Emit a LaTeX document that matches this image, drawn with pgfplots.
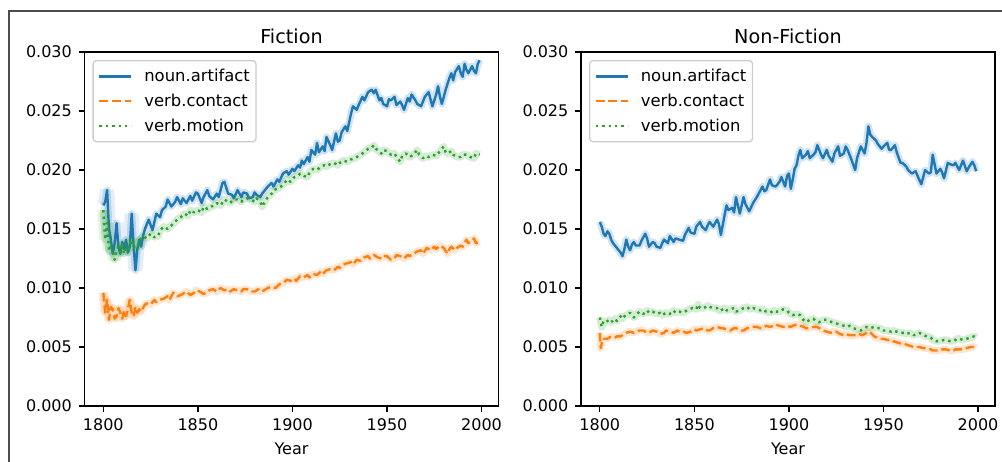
\documentclass[border=0pt]{standalone}
\usepackage{pgfplots}
\usepackage{pgfplotstable}
\pgfplotsset{compat=1.18}
\usepackage{fontspec}
\setmainfont{DejaVu Sans}
\definecolor{mblue}{HTML}{1F77B4}
\definecolor{morange}{HTML}{FF7F0E}
\definecolor{mgreen}{HTML}{2CA02C}

% values in units of 0.001
\pgfplotstableread[row sep=\\]{year v\\1800 17.0\\1801 17.3\\1802 18.3\\1803 15.0\\1804 14.1\\1805 12.9\\1806 13.8\\1807 15.5\\1808 13.5\\1809 12.9\\1810 13.9\\1811 13.3\\1812 14.1\\1813 13.0\\1814 13.5\\1815 16.3\\1816 13.6\\1817 11.5\\1818 13.3\\1819 14.1\\1820 13.5\\1821 14.4\\1822 15.0\\1824 15.8\\1826 14.9\\1828 16.3\\1830 16.0\\1831 16.6\\1833 16.9\\1834 17.5\\1836 16.9\\1838 17.3\\1839 17.7\\1841 17.1\\1842 17.6\\1844 17.2\\1846 17.8\\1847 17.4\\1849 18.1\\1850 18.0\\1852 17.2\\1853 17.7\\1855 18.3\\1856 17.8\\1858 17.5\\1860 18.0\\1861 17.7\\1863 18.9\\1864 19.0\\1866 18.0\\1868 17.9\\1869 17.6\\1871 18.3\\1873 17.7\\1874 18.1\\1876 18.0\\1877 17.6\\1879 17.7\\1880 18.1\\1881 17.9\\1883 17.7\\1884 18.0\\1886 18.4\\1887 18.6\\1889 18.9\\1890 18.6\\1892 19.2\\1893 19.0\\1895 19.7\\1897 19.9\\1898 19.6\\1900 20.1\\1901 19.9\\1903 20.4\\1904 20.2\\1905 20.8\\1906 20.5\\1908 21.1\\1909 20.7\\1910 21.7\\1912 21.3\\1913 22.3\\1914 21.5\\1916 22.0\\1917 21.6\\1918 22.8\\1920 22.1\\1921 21.7\\1923 23.1\\1924 22.4\\1925 22.5\\1926 23.2\\1928 23.7\\1929 23.3\\1931 24.8\\1932 25.4\\1934 25.1\\1935 25.5\\1937 26.2\\1938 25.9\\1940 26.6\\1942 26.8\\1943 26.5\\1944 26.8\\1946 25.9\\1947 26.1\\1948 25.6\\1950 25.4\\1951 26.0\\1952 25.9\\1954 26.2\\1955 25.5\\1957 25.8\\1958 25.5\\1959 25.1\\1961 26.1\\1962 25.8\\1963 26.4\\1965 25.9\\1966 25.6\\1968 25.4\\1970 26.2\\1972 26.6\\1973 26.0\\1974 25.4\\1976 26.4\\1977 27.1\\1978 26.2\\1979 25.6\\1981 26.8\\1983 27.8\\1984 28.2\\1985 27.6\\1986 28.3\\1988 28.8\\1989 28.2\\1990 27.9\\1991 29.0\\1992 28.5\\1993 28.2\\1995 28.8\\1996 28.4\\1997 28.2\\1998 29.0\\1999 29.3\\}\fictionArtifact

\pgfplotstableread[row sep=\\]{year v\\1800 9.6\\1801 7.9\\1802 9.0\\1803 7.3\\1804 8.4\\1805 8.2\\1806 7.4\\1807 7.6\\1808 8.3\\1809 7.9\\1810 7.4\\1811 8.1\\1812 7.6\\1813 8.2\\1814 9.0\\1815 7.9\\1816 7.6\\1817 8.4\\1818 7.9\\1819 8.2\\1820 8.0\\1821 8.3\\1822 8.6\\1823 8.7\\1825 8.6\\1827 9.0\\1828 8.8\\1830 9.0\\1832 9.1\\1834 9.3\\1835 9.0\\1837 9.6\\1839 9.3\\1841 9.4\\1843 9.6\\1844 9.7\\1846 9.4\\1848 9.6\\1849 9.8\\1851 9.7\\1853 9.5\\1855 9.6\\1856 9.8\\1858 9.9\\1860 9.7\\1862 10.0\\1864 9.8\\1866 9.9\\1867 9.7\\1869 9.9\\1871 9.8\\1873 9.7\\1874 9.9\\1876 9.9\\1878 9.7\\1880 9.7\\1882 9.9\\1883 9.7\\1885 9.8\\1887 10.0\\1889 10.1\\1891 10.0\\1893 10.3\\1895 10.4\\1897 10.7\\1899 10.6\\1901 10.8\\1902 10.6\\1904 11.0\\1906 10.9\\1908 11.1\\1909 10.9\\1911 11.2\\1913 11.1\\1915 11.4\\1916 11.2\\1918 11.5\\1920 11.6\\1922 11.5\\1924 11.8\\1925 11.7\\1927 12.0\\1929 12.1\\1931 12.2\\1932 12.0\\1934 12.4\\1936 12.3\\1938 12.6\\1940 12.7\\1941 12.5\\1943 12.8\\1945 12.6\\1947 12.5\\1948 12.7\\1950 12.7\\1952 12.4\\1954 12.5\\1955 12.8\\1957 12.7\\1959 12.5\\1961 12.8\\1962 12.7\\1964 12.9\\1966 13.1\\1968 13.2\\1969 12.9\\1971 13.4\\1973 13.2\\1975 13.5\\1976 13.3\\1978 13.6\\1980 13.4\\1982 12.9\\1983 13.3\\1984 13.5\\1986 13.2\\1987 13.4\\1989 13.6\\1990 13.5\\1992 14.1\\1993 13.8\\1994 13.9\\1996 14.2\\1997 13.8\\1999 13.9\\}\fictionContact

\pgfplotstableread[row sep=\\]{year v\\1800 16.6\\1801 14.1\\1802 15.5\\1803 13.2\\1804 13.5\\1805 13.0\\1806 12.4\\1807 13.2\\1808 13.5\\1809 13.0\\1810 13.8\\1811 12.9\\1812 13.4\\1813 13.2\\1814 13.7\\1815 14.1\\1816 13.4\\1817 13.6\\1818 13.5\\1819 14.0\\1821 14.4\\1823 14.2\\1825 14.6\\1827 14.3\\1829 14.4\\1830 14.9\\1832 15.2\\1834 15.0\\1836 15.3\\1838 15.6\\1839 15.8\\1841 16.0\\1843 16.3\\1845 16.1\\1846 16.6\\1848 16.4\\1850 16.6\\1852 16.4\\1853 16.9\\1855 16.7\\1857 16.9\\1859 17.0\\1860 17.2\\1862 17.0\\1864 17.5\\1866 17.3\\1867 17.2\\1869 17.5\\1871 17.5\\1873 17.3\\1874 17.5\\1876 17.6\\1878 17.5\\1880 17.3\\1881 17.6\\1883 17.3\\1884 16.9\\1886 17.5\\1887 17.7\\1889 18.0\\1890 18.3\\1892 18.4\\1894 18.6\\1896 18.9\\1897 19.2\\1899 19.0\\1901 19.4\\1903 19.5\\1904 19.7\\1906 19.5\\1908 19.4\\1909 19.8\\1911 20.1\\1913 20.0\\1915 20.3\\1917 20.4\\1918 20.3\\1920 20.5\\1922 20.6\\1924 20.4\\1925 20.6\\1927 20.8\\1929 20.7\\1931 20.9\\1933 21.0\\1934 21.1\\1936 21.3\\1938 21.5\\1940 21.8\\1942 21.9\\1943 22.1\\1944 21.8\\1945 21.7\\1947 21.4\\1948 21.7\\1950 21.6\\1952 21.3\\1954 21.4\\1955 21.1\\1957 20.7\\1958 21.2\\1960 21.4\\1962 21.1\\1964 21.3\\1966 21.7\\1967 21.3\\1969 21.0\\1971 21.2\\1972 21.1\\1974 21.3\\1976 21.2\\1978 21.6\\1980 22.0\\1981 21.5\\1982 21.4\\1984 21.6\\1985 21.3\\1987 21.1\\1989 21.1\\1990 21.3\\1992 21.3\\1994 21.1\\1996 21.0\\1997 21.4\\1999 21.3\\}\fictionMotion

\pgfplotstableread[row sep=\\]{year v\\1800 15.6\\1801 15.2\\1802 14.6\\1803 14.4\\1804 14.8\\1805 14.6\\1806 14.1\\1807 13.8\\1808 13.6\\1810 13.2\\1811 13.0\\1812 12.7\\1813 13.3\\1814 14.1\\1815 13.5\\1816 13.2\\1817 13.7\\1818 13.9\\1819 13.6\\1821 13.6\\1822 14.0\\1824 14.6\\1825 14.2\\1826 13.5\\1828 13.9\\1829 13.8\\1830 13.5\\1832 13.4\\1833 13.8\\1834 14.1\\1836 13.8\\1837 14.4\\1839 13.9\\1840 14.2\\1842 14.1\\1844 14.0\\1845 14.5\\1847 15.1\\1848 14.7\\1850 14.6\\1851 15.2\\1853 15.6\\1854 15.2\\1856 14.9\\1857 15.3\\1858 15.6\\1860 15.2\\1862 15.8\\1863 15.4\\1864 14.5\\1866 16.2\\1867 17.0\\1868 16.6\\1870 16.8\\1871 16.4\\1872 17.7\\1874 16.3\\1876 17.7\\1877 17.1\\1879 16.5\\1881 17.2\\1883 17.7\\1884 18.0\\1886 18.6\\1887 18.2\\1888 18.3\\1890 19.2\\1891 18.7\\1893 18.6\\1895 19.0\\1896 19.4\\1898 18.6\\1899 19.5\\1900 19.7\\1901 18.4\\1902 19.2\\1903 20.1\\1904 20.4\\1905 21.2\\1906 21.7\\1907 21.0\\1909 21.3\\1910 21.6\\1911 21.0\\1913 21.3\\1914 21.5\\1915 22.1\\1917 21.3\\1918 21.0\\1920 21.7\\1921 21.2\\1923 20.7\\1924 21.4\\1926 22.0\\1927 21.2\\1929 21.4\\1930 22.0\\1931 21.7\\1933 20.9\\1935 20.0\\1936 21.0\\1938 22.0\\1940 21.4\\1941 22.3\\1942 23.7\\1943 23.0\\1944 22.8\\1946 22.5\\1947 22.2\\1949 21.8\\1950 22.0\\1952 22.3\\1953 21.7\\1954 21.7\\1956 22.1\\1957 21.5\\1959 20.6\\1960 20.6\\1962 20.3\\1963 20.0\\1965 19.7\\1967 19.9\\1968 19.5\\1970 18.8\\1972 20.0\\1974 19.7\\1975 19.8\\1976 21.3\\1977 20.5\\1978 19.7\\1980 20.1\\1981 19.8\\1982 19.3\\1984 20.6\\1985 20.5\\1987 20.4\\1988 20.6\\1990 20.0\\1991 20.4\\1992 20.8\\1994 19.9\\1995 20.2\\1997 20.7\\1998 20.4\\1999 19.9\\}\nonfictionArtifact

\pgfplotstableread[row sep=\\]{year v\\1800 6.2\\1800.5 4.9\\1801.5 5.7\\1803 5.7\\1804 5.7\\1806 5.9\\1808 5.8\\1809 5.9\\1811 5.9\\1812 6.0\\1814 6.2\\1816 6.3\\1818 6.2\\1819 6.3\\1821 6.4\\1823 6.4\\1825 6.2\\1826 6.2\\1828 6.4\\1830 6.3\\1832 6.1\\1834 6.2\\1835 6.4\\1837 6.3\\1839 6.2\\1841 6.4\\1842 6.3\\1844 6.3\\1846 6.2\\1848 6.3\\1850 6.5\\1851 6.4\\1853 6.5\\1855 6.6\\1857 6.4\\1858 6.4\\1860 6.6\\1862 6.7\\1864 6.6\\1865 6.6\\1867 6.5\\1869 6.4\\1871 6.6\\1872 6.6\\1874 6.4\\1876 6.4\\1878 6.6\\1879 6.6\\1881 6.7\\1883 6.7\\1885 6.6\\1886 6.6\\1888 6.8\\1890 6.7\\1892 6.8\\1893 6.9\\1895 6.8\\1897 6.7\\1899 6.8\\1901 6.7\\1902 6.8\\1904 6.9\\1906 6.8\\1908 6.7\\1909 6.6\\1911 6.6\\1913 6.7\\1915 6.7\\1916 6.6\\1918 6.4\\1920 6.3\\1922 6.2\\1923 6.3\\1925 6.3\\1927 6.1\\1929 6.0\\1930 6.1\\1932 6.0\\1934 6.0\\1936 6.0\\1937 6.1\\1939 6.0\\1941 6.2\\1942 6.3\\1944 6.1\\1945 5.9\\1947 5.8\\1948 5.7\\1950 5.7\\1952 5.6\\1954 5.6\\1955 5.5\\1957 5.4\\1959 5.3\\1961 5.3\\1962 5.2\\1964 5.1\\1966 5.0\\1968 5.0\\1969 5.0\\1971 4.9\\1973 4.9\\1975 4.8\\1976 4.7\\1978 4.7\\1980 4.7\\1981 4.8\\1983 4.8\\1985 4.7\\1987 4.7\\1988 4.8\\1990 4.8\\1992 4.8\\1994 4.9\\1996 5.0\\1998 5.0\\1999 4.9\\}\nonfictionContact

\pgfplotstableread[row sep=\\]{year v\\1800 7.5\\1801 6.7\\1802 7.2\\1803 7.1\\1805 7.3\\1806 7.1\\1808 7.4\\1809 7.2\\1811 7.6\\1812 7.4\\1813 7.6\\1815 7.8\\1816 7.9\\1818 7.5\\1819 7.7\\1821 8.0\\1823 7.8\\1825 8.1\\1826 7.9\\1828 8.0\\1830 7.8\\1832 7.9\\1833 7.7\\1835 7.9\\1837 7.8\\1839 8.1\\1840 7.9\\1842 8.0\\1844 7.9\\1846 8.1\\1847 8.2\\1849 8.3\\1851 8.2\\1852 8.6\\1853 8.3\\1855 8.3\\1857 8.5\\1858 8.4\\1860 8.3\\1862 8.3\\1863 8.1\\1864 8.1\\1866 8.3\\1867 8.1\\1869 8.2\\1871 8.3\\1872 8.0\\1874 8.1\\1876 8.3\\1878 8.4\\1879 8.2\\1881 8.3\\1883 8.2\\1885 8.1\\1886 8.2\\1888 8.0\\1890 7.9\\1892 8.1\\1893 8.0\\1895 8.0\\1897 8.2\\1899 8.1\\1900 7.9\\1902 7.7\\1904 7.8\\1906 7.7\\1907 7.4\\1909 7.1\\1911 7.3\\1913 7.4\\1914 7.2\\1916 7.1\\1918 7.3\\1920 7.3\\1921 7.2\\1923 7.1\\1925 7.0\\1927 6.9\\1929 6.8\\1931 6.7\\1932 6.8\\1934 6.6\\1936 6.5\\1938 6.4\\1940 6.6\\1941 6.7\\1943 6.6\\1945 6.7\\1946 6.6\\1948 6.6\\1950 6.4\\1952 6.4\\1954 6.3\\1955 6.4\\1957 6.3\\1959 6.2\\1961 6.2\\1962 6.1\\1964 6.2\\1966 6.0\\1968 6.1\\1969 6.2\\1971 6.0\\1973 5.9\\1975 5.8\\1976 5.6\\1978 5.5\\1980 5.5\\1982 5.6\\1983 5.6\\1985 5.5\\1987 5.5\\1989 5.7\\1990 5.7\\1992 5.6\\1994 5.7\\1996 5.8\\1998 5.9\\1999 5.8\\}\nonfictionMotion

\pgfplotsset{
  mpl/.style={
    scale only axis, width=207pt, height=177pt,
    xmin=1790.05, xmax=2008.95, ymin=0, ymax=30,
    axis line style={line width=0.64pt, black},
    every tick/.style={black, line width=0.64pt},
    tick align=outside, major tick length=2.8pt, tick pos=left,
    xtick={1800,1850,1900,1950,2000},
    ytick={0,5,10,15,20,25,30},
    yticklabels={0.000,0.005,0.010,0.015,0.020,0.025,0.030},
    tick label style={font=\fontsize{8}{9.6}\selectfont},
    /pgf/number format/1000 sep={},
    /pgf/number format/assume math mode=true,
    xlabel={Year},
    label style={font=\fontsize{8}{9.6}\selectfont},
    xlabel style={yshift=0.8pt},
    title style={font=\fontsize{9.6}{11.5}\selectfont, at={(0.5,1)}, anchor=base, yshift=-1.6pt},
    legend cell align=left,
    legend image code/.code={\draw[##1] (0pt,0pt) -- (16pt,0pt);},
    legend style={at={(0,1)}, anchor=north west, xshift=4pt, yshift=-4pt,
      draw=black!20, line width=0.64pt, rounded corners=1.6pt,
      fill=white, fill opacity=0.8, text opacity=1,
      font=\fontsize{8.2}{9.8}\selectfont,
      inner xsep=2.5pt, inner ysep=2.5pt, row sep=1.7pt, column sep=5.3pt,
      nodes={inner sep=0.6pt, text height=0.75em, text depth=0.2em}},
  },
  band/.style={line width=3.6pt, opacity=0.2, line join=round, forget plot},
  wide/.style={line width=7pt, opacity=0.12, line join=bevel, forget plot, restrict x to domain=1800:1820},
  main/.style={line width=1.2pt, line join=round},
  dashedm/.style={main, dash pattern=on 4.4pt off 1.9pt},
  dottedm/.style={main, dash pattern=on 1.2pt off 2pt},
}

\begin{document}
\begin{tikzpicture}
\path[use as bounding box] (0,0) rectangle (501pt,230.5pt);
\draw[black!70, line width=1pt] (4.5pt,-5pt) -- (4.5pt,225pt) -- (506pt,225pt);

\begin{axis}[mpl, at={(42.25pt,27.5pt)}, anchor=south west, title={Fiction}]
\addplot[mblue, wide] table[x=year,y=v] {\fictionArtifact};
\addplot[mblue, band] table[x=year,y=v] {\fictionArtifact};
\addplot[mblue, main] table[x=year,y=v] {\fictionArtifact};
\addlegendentry{noun.artifact}
\addplot[morange, wide, line width=5pt] table[x=year,y=v] {\fictionContact};
\addplot[morange, band] table[x=year,y=v] {\fictionContact};
\addplot[morange, dashedm] table[x=year,y=v] {\fictionContact};
\addlegendentry{verb.contact}
\addplot[mgreen, wide, line width=6pt] table[x=year,y=v] {\fictionMotion};
\addplot[mgreen, band] table[x=year,y=v] {\fictionMotion};
\addplot[mgreen, dottedm] table[x=year,y=v] {\fictionMotion};
\addlegendentry{verb.motion}
\end{axis}

\begin{axis}[mpl, at={(290.5pt,27.5pt)}, anchor=south west, title={Non-Fiction}]
\addplot[mblue, band] table[x=year,y=v] {\nonfictionArtifact};
\addplot[mblue, main] table[x=year,y=v] {\nonfictionArtifact};
\addlegendentry{noun.artifact}
\addplot[morange, band] table[x=year,y=v] {\nonfictionContact};
\addplot[morange, dashedm] table[x=year,y=v] {\nonfictionContact};
\addlegendentry{verb.contact}
\addplot[mgreen, band] table[x=year,y=v] {\nonfictionMotion};
\addplot[mgreen, dottedm] table[x=year,y=v] {\nonfictionMotion};
\addlegendentry{verb.motion}
\end{axis}
\end{tikzpicture}
\end{document}
